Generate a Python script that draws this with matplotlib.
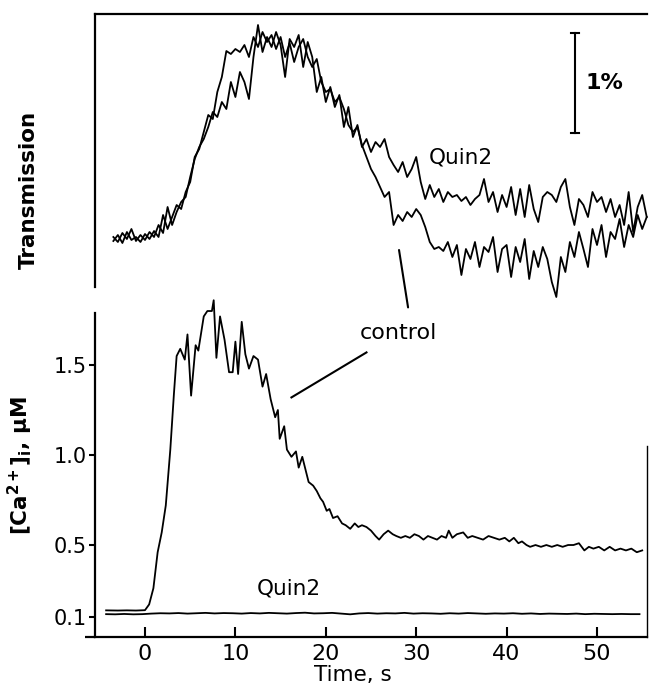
import numpy as np
import matplotlib
matplotlib.use("Agg")
import matplotlib.pyplot as plt
from matplotlib.patches import ConnectionPatch

plt.rcParams['font.family'] = ['DejaVu Sans']

# ---------------- data ----------------
# Top panel: transmission (%), sampled every 0.5 s starting at -3.5 s
trans_t0 = -3.5
trans_dt = 0.5
trans_control = [
    0.46, 0.52, 0.44, 0.55, 0.47, 0.50, 0.45, 0.53, 0.48, 0.56,
    0.50, 0.72, 0.58, 0.70, 0.82, 0.78, 0.95, 1.05, 1.30, 1.38,
    1.55, 1.72, 1.68, 1.95, 2.10, 2.36, 2.33, 2.38, 2.35, 2.42,
    2.30, 2.50, 2.40, 2.55, 2.45, 2.52, 2.38, 2.50, 2.30, 2.44,
    2.25, 2.40, 2.48, 2.30, 2.20, 2.28, 2.05, 1.95, 1.98, 1.85,
    1.90, 1.78, 1.62, 1.55, 1.60, 1.42, 1.30, 1.18, 1.10, 1.00,
    0.90, 0.95, 0.62, 0.72, 0.66, 0.75, 0.70, 0.78, 0.72, 0.60,
    0.45, 0.38, 0.40, 0.36, 0.45, 0.30, 0.42, 0.12, 0.38, 0.28,
    0.45, 0.20, 0.40, 0.35, 0.50, 0.15, 0.38, 0.42, 0.10, 0.40,
    0.25, 0.48, 0.08, 0.36, 0.20, 0.40, 0.28, 0.05, -0.10, 0.30,
    0.15, 0.45, 0.30, 0.55, 0.38, 0.20, 0.58, 0.42, 0.62, 0.30,
    0.55, 0.48, 0.68, 0.40, 0.62, 0.50, 0.72, 0.58, 0.70]
trans_quin2 = [
    0.50, 0.45, 0.54, 0.48, 0.58, 0.46, 0.52, 0.47, 0.55, 0.50,
    0.62, 0.54, 0.80, 0.62, 0.75, 0.85, 0.90, 1.10, 1.28, 1.40,
    1.48, 1.60, 1.75, 1.70, 1.85, 1.78, 2.05, 1.90, 2.15, 2.05,
    1.88, 2.30, 2.62, 2.35, 2.50, 2.40, 2.55, 2.42, 2.10, 2.48,
    2.40, 2.52, 2.20, 2.45, 2.30, 1.95, 2.10, 1.85, 2.00, 1.80,
    1.92, 1.60, 1.80, 1.50, 1.62, 1.40, 1.48, 1.35, 1.45, 1.40,
    1.48, 1.30, 1.22, 1.15, 1.25, 1.10, 1.18, 1.30, 1.05, 0.88,
    1.02, 0.90, 0.98, 0.85, 0.95, 0.90, 0.92, 0.86, 0.90, 0.82,
    0.88, 0.92, 1.08, 0.85, 0.95, 0.75, 0.92, 0.80, 1.00, 0.72,
    0.98, 0.70, 1.02, 0.78, 0.65, 0.90, 0.95, 0.92, 0.85, 1.00,
    1.08, 0.80, 0.62, 0.88, 0.82, 0.70, 0.95, 0.85, 0.90, 0.75,
    0.88, 0.70, 0.82, 0.62, 0.95, 0.55, 0.80, 0.92, 0.70]

# Bottom panel: [Ca2+]i (uM)
ca_time = [
    -4.3, -3.0, -2.0, -1.0, 0.0, 0.46, 0.93, 1.4, 1.85, 2.3,
    2.8, 3.2, 3.5, 3.9, 4.4, 4.7, 5.1, 5.6, 5.9, 6.5,
    6.9, 7.4, 7.6, 7.9, 8.3, 8.8, 9.3, 9.7, 10.0, 10.3,
    10.7, 11.1, 11.5, 12.0, 12.5, 13.0, 13.4, 13.9, 14.4, 14.7,
    14.9, 15.4, 15.7, 16.2, 16.7, 17.0, 17.4, 18.1, 18.6, 19.0,
    19.4, 19.7, 20.1, 20.4, 20.8, 21.3, 21.8, 22.2, 22.7, 23.2,
    23.6, 24.0, 24.5, 25.0, 25.5, 25.9, 26.4, 26.9, 27.4, 27.8,
    28.3, 28.8, 29.3, 29.8, 30.3, 30.8, 31.3, 31.8, 32.3, 32.8,
    33.3, 33.6, 34.0, 34.5, 35.2, 35.7, 36.2, 36.8, 37.4, 38.0,
    38.6, 39.2, 39.8, 40.3, 40.8, 41.3, 41.7, 42.2, 42.6, 43.2,
    43.8, 44.4, 45.0, 45.6, 46.2, 46.8, 47.4, 48.0, 48.6, 49.1,
    49.6, 50.2, 50.8, 51.4, 52.0, 52.6, 53.2, 53.8, 54.4, 55.0]
ca_control = [
    0.137, 0.136, 0.137, 0.136, 0.138, 0.17, 0.26, 0.46, 0.57, 0.72,
    1.03, 1.34, 1.55, 1.59, 1.53, 1.67, 1.33, 1.61, 1.58, 1.77,
    1.80, 1.80, 1.86, 1.54, 1.77, 1.64, 1.46, 1.46, 1.63, 1.45,
    1.74, 1.56, 1.48, 1.55, 1.53, 1.38, 1.45, 1.31, 1.21, 1.25,
    1.09, 1.16, 1.03, 0.99, 1.02, 0.93, 0.99, 0.85, 0.83, 0.80,
    0.76, 0.74, 0.69, 0.70, 0.65, 0.66, 0.62, 0.61, 0.59, 0.62,
    0.60, 0.61, 0.60, 0.58, 0.55, 0.53, 0.56, 0.58, 0.56, 0.55,
    0.54, 0.55, 0.54, 0.56, 0.55, 0.53, 0.55, 0.54, 0.53, 0.55,
    0.54, 0.58, 0.54, 0.56, 0.57, 0.54, 0.55, 0.54, 0.53, 0.55,
    0.54, 0.53, 0.54, 0.52, 0.54, 0.51, 0.52, 0.50, 0.49, 0.50,
    0.49, 0.50, 0.49, 0.50, 0.49, 0.50, 0.50, 0.51, 0.47, 0.49,
    0.48, 0.49, 0.47, 0.49, 0.47, 0.48, 0.47, 0.48, 0.46, 0.47]
ca_quin2_t0 = -4.3
ca_quin2_dt = 1.0
ca_quin2 = [
    0.116, 0.115, 0.117, 0.115, 0.116, 0.119, 0.121, 0.120, 0.122, 0.119,
    0.121, 0.123, 0.120, 0.122, 0.121, 0.119, 0.122, 0.120, 0.123, 0.121,
    0.119, 0.122, 0.124, 0.120, 0.121, 0.123, 0.119, 0.115, 0.120, 0.122,
    0.119, 0.121, 0.120, 0.123, 0.119, 0.121, 0.120, 0.118, 0.121, 0.119,
    0.122, 0.120, 0.118, 0.120, 0.119, 0.121, 0.118, 0.120, 0.117, 0.119,
    0.118, 0.117, 0.119, 0.116, 0.118, 0.117, 0.116, 0.117, 0.116, 0.116]

xticks = [0, 10, 20, 30, 40, 50]
xtick_labels = ["0", "10", "20", "30", "40", "50"]
yticks = [0.1, 0.5, 1.0, 1.5]
ytick_labels = ["0.1", "0.5", "1.0", "1.5"]

# ---------------- figure ----------------
W, H = 649, 693
fig = plt.figure(figsize=(W / 100, H / 100), dpi=100)

XLIM = (-5.53, 55.53)
lw_trace = 1.3
lw_spine = 1.6

ax_top = fig.add_axes([95 / W, 1 - 287 / H, 552 / W, 273 / H])
ax_bot = fig.add_axes([95 / W, 1 - 637 / H, 552 / W, 324 / H])

# --- top panel ---
t_top_c = trans_t0 + trans_dt * np.arange(len(trans_control))
t_top_q = trans_t0 + trans_dt * np.arange(len(trans_quin2))
ax_top.plot(t_top_c, trans_control, color='black', lw=lw_trace, clip_on=False)
ax_top.plot(t_top_q, trans_quin2, color='black', lw=lw_trace, clip_on=False)
ax_top.set_xlim(*XLIM)
ax_top.set_ylim(0, 2.73)
ax_top.set_xticks([])
ax_top.set_yticks([])
ax_top.spines['right'].set_visible(False)
ax_top.spines['bottom'].set_visible(False)
ax_top.spines['left'].set_linewidth(lw_spine)
ax_top.spines['top'].set_linewidth(lw_spine)
ax_top.patch.set_alpha(0)
ax_top.set_ylabel('Transmission', fontsize=15.5, fontweight='bold')
ax_top.yaxis.set_label_coords(-0.101, 0.355)

# scale bar 1 %
sb_x = 47.6
ax_top.plot([sb_x, sb_x], [1.54, 2.54], color='black', lw=1.5)
ax_top.plot([sb_x - 0.45, sb_x + 0.45], [2.54, 2.54], color='black', lw=1.5)
ax_top.plot([sb_x - 0.45, sb_x + 0.45], [1.54, 1.54], color='black', lw=1.5)
ax_top.text(48.7, 2.04, '1%', fontsize=16, fontweight='bold', ha='left', va='center')
ax_top.text(31.4, 1.29, 'Quin2', fontsize=15.5, ha='left', va='center')

# --- bottom panel ---
t_q = ca_quin2_t0 + ca_quin2_dt * np.arange(len(ca_quin2))
ax_bot.plot(ca_time, ca_control, color='black', lw=lw_trace, clip_on=False)
ax_bot.plot(t_q, ca_quin2, color='black', lw=lw_trace, clip_on=False)
ax_bot.set_xlim(*XLIM)
ax_bot.set_ylim(-0.011, 1.789)
ax_bot.set_xticks(xticks)
ax_bot.set_xticklabels(xtick_labels)
ax_bot.set_yticks(yticks)
ax_bot.set_yticklabels(ytick_labels)
ax_bot.tick_params(axis='x', direction='in', length=7, width=1.5, labelsize=16, pad=5)
ax_bot.tick_params(axis='y', direction='out', length=4, width=1.5, labelsize=15, pad=2)
ax_bot.spines['top'].set_visible(False)
ax_bot.spines['right'].set_bounds(-0.011, 1.05)
ax_bot.spines['right'].set_linewidth(1.0)
for s in ('left', 'bottom'):
    ax_bot.spines[s].set_linewidth(lw_spine)
ax_bot.patch.set_alpha(0)
# slight extension of the bottom axis line to the left
ax_bot.plot([-0.018, 0], [0, 0], transform=ax_bot.transAxes, color='black',
            lw=lw_spine, clip_on=False, solid_capstyle='butt')

ax_bot.set_xlabel('Time, s', fontsize=15.5, va='center')
ax_bot.xaxis.set_label_coords(0.467, -0.118)
ax_bot.set_ylabel(r'[Ca$^{\mathbf{2+}}$]$_{\mathbf{i}}$, μM', fontsize=15.5, fontweight='bold')
ax_bot.yaxis.set_label_coords(-0.109, 0.528)

ax_bot.text(28.0, 1.68, 'control', fontsize=16, ha='center', va='center')
ax_bot.plot([24.5, 16.2], [1.57, 1.32], color='black', lw=1.5)
ax_bot.text(15.9, 0.26, 'Quin2', fontsize=15.5, ha='center', va='center')

# leader line from top trace to "control" label
con = ConnectionPatch(xyA=(28.1, 0.37), coordsA=ax_top.transData,
                      xyB=(29.1, 1.82), coordsB=ax_bot.transData,
                      color='black', lw=1.5)
fig.add_artist(con)

fig.savefig('out.png', dpi=100)
